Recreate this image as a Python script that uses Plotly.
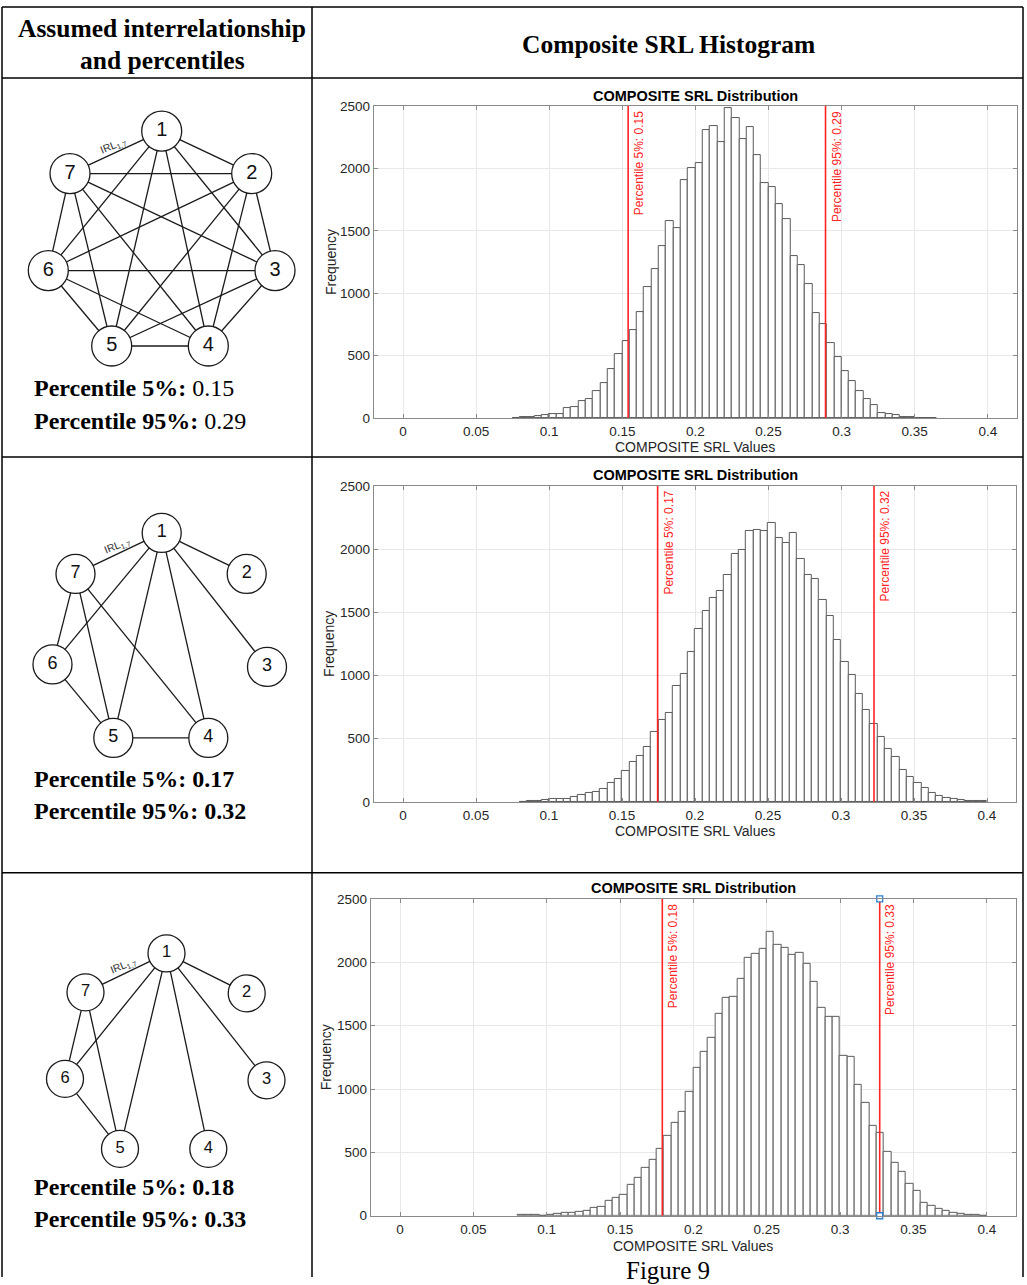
import plotly.graph_objects as go

W, H = 1027, 1285

# ---------------- data ----------------
bins1 = [0.075, 0.080, 0.085, 0.090, 0.095, 0.100, 0.105, 0.110, 0.115, 0.120,
         0.125, 0.130, 0.135, 0.140, 0.145, 0.150, 0.155, 0.160, 0.165, 0.170,
         0.175, 0.180, 0.185, 0.190, 0.195, 0.200, 0.205, 0.210, 0.215, 0.220,
         0.225, 0.230, 0.235, 0.240, 0.245, 0.250, 0.255, 0.260, 0.265, 0.270,
         0.275, 0.280, 0.285, 0.290, 0.295, 0.300, 0.305, 0.310, 0.315, 0.320,
         0.325, 0.330, 0.335, 0.340, 0.345, 0.350, 0.355, 0.360]
counts1 = [3, 5, 8, 19, 21, 29, 35, 80, 91, 134,
           152, 214, 278, 395, 510, 614, 702, 852, 1047, 1194,
           1381, 1576, 1525, 1907, 2006, 2046, 2308, 2342, 2212, 2487,
           2407, 2238, 2334, 2107, 1883, 1851, 1717, 1592, 1301, 1229,
           1074, 844, 751, 604, 489, 374, 296, 214, 152, 104,
           43, 32, 21, 8, 5, 3, 2, 1]

bins23 = [0.080, 0.085, 0.090, 0.095, 0.100, 0.105, 0.110, 0.115, 0.120, 0.125,
          0.130, 0.135, 0.140, 0.145, 0.150, 0.155, 0.160, 0.165, 0.170, 0.175,
          0.180, 0.185, 0.190, 0.195, 0.200, 0.205, 0.210, 0.215, 0.220, 0.225,
          0.230, 0.235, 0.240, 0.245, 0.250, 0.255, 0.260, 0.265, 0.270, 0.275,
          0.280, 0.285, 0.290, 0.295, 0.300, 0.305, 0.310, 0.315, 0.320, 0.325,
          0.330, 0.335, 0.340, 0.345, 0.350, 0.355, 0.360, 0.365, 0.370, 0.375,
          0.380, 0.385, 0.390, 0.395]
counts2 = [2, 4, 5, 13, 21, 21, 24, 37, 58, 71,
           79, 103, 150, 182, 245, 316, 363, 434, 550, 647,
           700, 916, 1011, 1185, 1369, 1508, 1614, 1669, 1798, 1958,
           1990, 2143, 2153, 2140, 2206, 2090, 2048, 2127, 1921, 1792,
           1763, 1600, 1469, 1284, 1105, 1003, 855, 724, 619, 516,
           416, 358, 253, 200, 153, 111, 71, 47, 34, 24,
           16, 8, 8, 5]
counts3 = [5, 5, 8, 3, 8, 13, 21, 26, 29, 42,
           66, 71, 116, 139, 168, 247, 300, 379, 442, 529,
           632, 732, 819, 979, 1163, 1292, 1405, 1590, 1719, 1727,
           1869, 2035, 2066, 2106, 2237, 2140, 2113, 2061, 2074, 1990,
           1842, 1640, 1566, 1566, 1263, 1250, 1029, 890, 713, 653,
           508, 416, 350, 253, 200, 105, 79, 53, 42, 21,
           13, 8, 5, 3]

bin_width = 0.005

p5 = [0.154, 0.1744, 0.1788]
p95 = [0.289, 0.3226, 0.327]
p5_labels = ["Percentile 5%: 0.15", "Percentile 5%: 0.17", "Percentile 5%: 0.18"]
p95_labels = ["Percentile 95%: 0.29", "Percentile 95%: 0.32", "Percentile 95%: 0.33"]

x_tickvals = [0, 0.05, 0.1, 0.15, 0.2, 0.25, 0.3, 0.35, 0.4]
x_ticktext = ["0", "0.05", "0.1", "0.15", "0.2", "0.25", "0.3", "0.35", "0.4"]
y_tickvals = [0, 500, 1000, 1500, 2000, 2500]
y_ticktext = ["0", "500", "1000", "1500", "2000", "2500"]

node_names = ["1", "2", "3", "4", "5", "6", "7"]
# node positions for each network (cell drawing coordinates)
net1_x = [161.7, 251.7, 275.0, 208.3, 111.7, 48.3, 70.0]
net1_y = [131.0, 173.5, 270.5, 346.0, 346.0, 270.5, 173.5]
net2_x = [161.7, 246.7, 267.0, 208.3, 113.3, 52.5, 75.5]
net2_y = [533.0, 574.0, 667.0, 738.0, 738.0, 664.5, 574.0]
net3_x = [166.5, 246.7, 266.5, 208.3, 120.0, 65.0, 85.5]
net3_y = [953.5, 993.5, 1080.5, 1149.0, 1149.0, 1079.0, 992.5]

edges1 = [(1, 2), (1, 3), (1, 4), (1, 5), (1, 6), (1, 7),
          (2, 3), (2, 4), (2, 5), (2, 6), (2, 7),
          (3, 4), (3, 5), (3, 6), (3, 7),
          (4, 5), (4, 6), (4, 7),
          (5, 6), (5, 7), (6, 7)]
edges2 = [(1, 2), (1, 3), (1, 4), (1, 5), (1, 6), (1, 7),
          (7, 6), (7, 5), (7, 4), (6, 5), (5, 4)]
edges3 = [(1, 2), (1, 3), (1, 4), (1, 5), (1, 6), (1, 7),
          (7, 6), (7, 5), (6, 5)]

perc_text = [("<b>Percentile 5%:</b> 0.15", "<b>Percentile 95%:</b> 0.29"),
             ("<b>Percentile 5%: 0.17</b>", "<b>Percentile 95%: 0.32</b>"),
             ("<b>Percentile 5%: 0.18</b>", "<b>Percentile 95%: 0.33</b>")]

# ---------------- layout helpers ----------------
# vertical calibration of the photographed page (offset / scale)
OFF, SC = 6.9, 0.9886


def fx(px):
    return px / W


def fy(py):
    return 1 - ((py - OFF) / SC) / H


SANS = "Liberation Sans, Arial, Helvetica, sans-serif"
SERIF = "Liberation Serif, Times New Roman, serif"
RED = "#ff2323"

fig = go.Figure()

# histogram geometry: (x pixel of 0, pixels per unit, top px, bottom px)
hgeo = [(403.0, 1462.0, 106.0, 418.0),
        (403.0, 1460.0, 486.0, 802.0),
        (400.0, 1467.0, 899.0, 1216.0)]
title_y = [96, 475, 888]
xtitle_y = [447, 831, 1246]
ytitle_x = [331, 329, 326]

hist_bins = [bins1, bins23, bins23]
hist_counts = [counts1, counts2, counts3]

annotations = []
for i in range(3):
    xa = "x" if i == 0 else f"x{i+1}"
    ya = "y" if i == 0 else f"y{i+1}"
    x0, s, top, bot = hgeo[i]
    left = x0 - 0.02 * s
    right = x0 + 0.42 * s
    fig.add_trace(go.Bar(
        x=hist_bins[i], y=hist_counts[i], width=bin_width, offset=0,
        marker=dict(color="white", line=dict(color="#5a5a5a", width=1)),
        xaxis=xa, yaxis=ya, hoverinfo="skip"))
    for p in (p5[i], p95[i]):
        fig.add_trace(go.Scatter(
            x=[p, p], y=[0, 2500], mode="lines",
            line=dict(color=RED, width=1.6), xaxis=xa, yaxis=ya,
            hoverinfo="skip", cliponaxis=False))
    for p, lab in ((p5[i], p5_labels[i]), (p95[i], p95_labels[i])):
        annotations.append(dict(
            x=p, y=2500, xref=xa, yref=ya, text=lab, showarrow=False,
            textangle=-90, xanchor="left", yanchor="top", xshift=2, yshift=-3,
            font=dict(family=SANS, size=12, color=RED)))
    axis_common = dict(showgrid=True, gridcolor="#e8e8e8", gridwidth=1,
                       showline=True, linecolor="#8a8a8a", linewidth=1,
                       mirror="ticks", ticks="inside", ticklen=4,
                       tickcolor="#8a8a8a", zeroline=False,
                       tickfont=dict(family=SANS, size=13.5, color="#262626"),
                       fixedrange=True)
    fig.layout[("xaxis" if i == 0 else f"xaxis{i+1}")] = dict(
        domain=[fx(left), fx(right)], range=[-0.02, 0.42],
        tickvals=x_tickvals, ticktext=x_ticktext, anchor=ya,
        ticklabelstandoff=1, **axis_common)
    fig.layout[("yaxis" if i == 0 else f"yaxis{i+1}")] = dict(
        domain=[fy(bot), fy(top)], range=[0, 2500],
        tickvals=y_tickvals, ticktext=y_ticktext, anchor=xa,
        **axis_common)
    cx = (left + right) / 2
    annotations.append(dict(
        x=fx(cx), y=fy(title_y[i]), xref="paper", yref="paper",
        text="<b>COMPOSITE SRL Distribution</b>", showarrow=False,
        xanchor="center", yanchor="middle",
        font=dict(family=SANS, size=14.5, color="black")))
    annotations.append(dict(
        x=fx(cx), y=fy(xtitle_y[i]), xref="paper", yref="paper",
        text="COMPOSITE SRL Values", showarrow=False,
        xanchor="center", yanchor="middle",
        font=dict(family=SANS, size=14, color="#262626")))
    annotations.append(dict(
        x=fx(ytitle_x[i]), y=fy((top + bot) / 2), xref="paper", yref="paper",
        text="Frequency", showarrow=False, textangle=-90,
        xanchor="center", yanchor="middle",
        font=dict(family=SANS, size=14, color="#262626")))

# data-tip handles on the third chart's 95% line
fig.add_trace(go.Scatter(
    x=[p95[2], p95[2]], y=[0, 2500], mode="markers", xaxis="x3", yaxis="y3",
    marker=dict(symbol="square", size=6, color="white",
                line=dict(color="#2f7fd0", width=1.3)),
    hoverinfo="skip", cliponaxis=False))

# ---------------- networks ----------------
nets = [(net1_x, net1_y, edges1, 40, 20),
        (net2_x, net2_y, edges2, 39, 18),
        (net3_x, net3_y, edges3, 37, 16.5)]
for nx, ny, edges, msize, fsize in nets:
    ex, ey = [], []
    for a, b in edges:
        ex += [nx[a - 1], nx[b - 1], None]
        ey += [ny[a - 1], ny[b - 1], None]
    fig.add_trace(go.Scatter(x=ex, y=ey, mode="lines",
                             line=dict(color="#1a1a1a", width=1.3),
                             xaxis="x4", yaxis="y4", hoverinfo="skip"))
    fig.add_trace(go.Scatter(
        x=nx, y=ny, mode="markers+text", text=node_names,
        textposition="middle center",
        textfont=dict(family=SANS, size=fsize, color="#111111"),
        marker=dict(size=msize, color="white",
                    line=dict(color="#1a1a1a", width=1.3)),
        xaxis="x4", yaxis="y4", hoverinfo="skip", cliponaxis=False))

irl_pos = [(113, 146), (117, 546), (123, 966)]
for (ix, iy) in irl_pos:
    annotations.append(dict(
        x=ix, y=iy, xref="x4", yref="y4", text="IRL<sub>1,7</sub>",
        showarrow=False, textangle=-22, xanchor="center", yanchor="middle",
        font=dict(family=SANS, size=10.5, color="#333333")))

fig.layout.xaxis4 = dict(domain=[0, fx(312)], range=[0, 312], visible=False,
                         fixedrange=True, anchor="y4")
fig.layout.yaxis4 = dict(domain=[0, 1], range=[OFF + SC * H, OFF],
                         visible=False, fixedrange=True, anchor="x4")

# ---------------- table text ----------------
perc_y = [(388, 421), (779, 811), (1187, 1219)]
for (t5, t95), (y5, y95) in zip(perc_text, perc_y):
    for t, yy in ((t5, y5), (t95, y95)):
        annotations.append(dict(
            x=fx(32), y=fy(yy), xref="paper", yref="paper", text=t,
            showarrow=False, xanchor="left", yanchor="middle",
            font=dict(family=SERIF, size=24, color="black")))

annotations.append(dict(x=fx(162), y=fy(28), xref="paper", yref="paper",
                        text="<b>Assumed interrelationship</b>", showarrow=False,
                        xanchor="center", yanchor="middle",
                        font=dict(family=SERIF, size=25.5, color="black")))
annotations.append(dict(x=fx(162), y=fy(60), xref="paper", yref="paper",
                        text="<b>and percentiles</b>", showarrow=False,
                        xanchor="center", yanchor="middle",
                        font=dict(family=SERIF, size=25.5, color="black")))
annotations.append(dict(x=fx(668), y=fy(44), xref="paper", yref="paper",
                        text="<b>Composite SRL Histogram</b>", showarrow=False,
                        xanchor="center", yanchor="middle",
                        font=dict(family=SERIF, size=25.5, color="black")))
annotations.append(dict(x=fx(668), y=fy(1271), xref="paper", yref="paper",
                        text="Figure 9", showarrow=False,
                        xanchor="center", yanchor="middle",
                        font=dict(family=SERIF, size=25, color="black")))

# ---------------- table borders ----------------
LEFT, RIGHT, COL = 2, 1023, 312
shapes = []
for yy in (7, 78, 457, 873):
    shapes.append(dict(type="line", xref="paper", yref="paper",
                       x0=fx(LEFT), x1=fx(RIGHT), y0=fy(yy), y1=fy(yy),
                       line=dict(color="black", width=1.5)))
for xx in (LEFT, COL, RIGHT):
    shapes.append(dict(type="line", xref="paper", yref="paper",
                       x0=fx(xx), x1=fx(xx), y0=fy(7), y1=0,
                       line=dict(color="black", width=1.5)))

fig.update_layout(width=W, height=H, margin=dict(l=0, r=0, t=0, b=0),
                  showlegend=False, plot_bgcolor="white",
                  paper_bgcolor="white", bargap=0,
                  annotations=annotations, shapes=shapes)

fig.write_html(
    "out.html",
    config={"displayModeBar": False},
    post_script=(
        "document.documentElement.style.margin='0';"
        "document.body.style.margin='0';"
        "document.body.style.padding='0';"
        "document.documentElement.style.overflow='hidden';"
    ),
)
